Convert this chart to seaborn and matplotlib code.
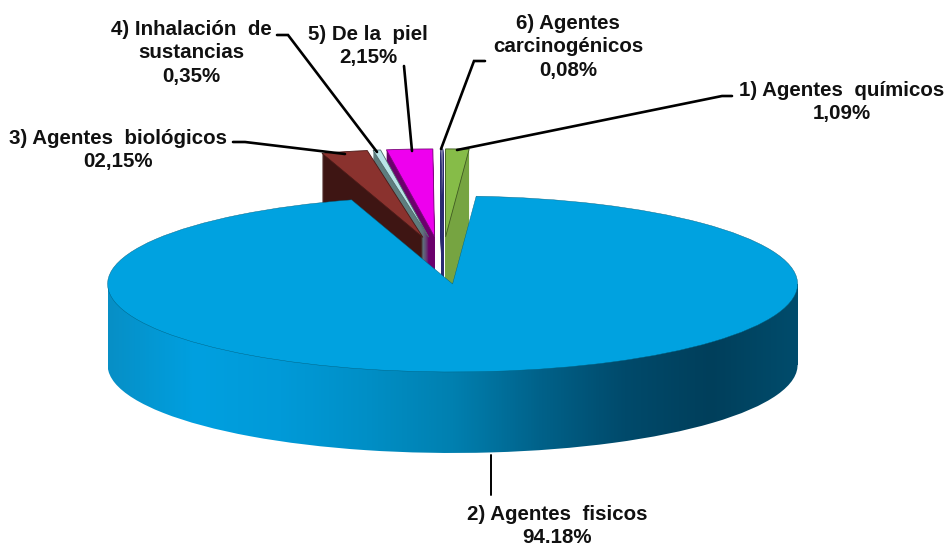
import numpy as np
import matplotlib
matplotlib.use("Agg")
import matplotlib.pyplot as plt
from matplotlib.patches import Rectangle
import seaborn as sns

# ---- data ----
values = [1.09, 94.18, 2.15, 0.35, 2.15, 0.08]
label_texts = [
    "1) Agentes  químicos\n1,09%",
    "2) Agentes  fisicos\n94.18%",
    "3) Agentes  biológicos\n02,15%",
    "4) Inhalación  de\nsustancias\n0,35%",
    "5) De la  piel\n2,15%",
    "6) Agentes\ncarcinogénicos\n0,08%",
]

# ---- style ----
top_colors = ["#86BC48", "#00A2E0", "#8A322E", "#B9E4E8", "#EE00EE", "#FFFFFF"]
side_colors = ["#76A441", "#00A2E0", "#3E1513", "#5E7D7E", "#6C006C", "#FFFFFF"]
edge_colors = ["#3F5A22", "#00607F", "#4A1A18", "#4F6B6C", "#7A0A7A", "#2A2A70"]
side_z = [1.5, 1.0, 1.9, 1.8, 1.7, 1.6]
explode = [0.217, 0.32, 0.217, 0.217, 0.217, 0.217]
rim_colors = ["#078FC6", "#00A0E0", "#009AD8", "#008FC6", "#0080B0",
              "#00628A", "#004A6B", "#003F5B", "#004C6C"]

W, H = 945, 548
CX, CY, RX, RY = 440.0, 256.0, 345.0, 88.0
DEPTH = 81.0 / RY
nudge = [3 / RX, 0, 0, 0, 0, 3 / RX]


def px(x, y):
    return (x - CX) / RX, (CY - y) / RY


label_pos = [(842, 102), (557, 526), (118, 150), (191, 53), (368, 46), (568, 47)]
leaders = [
    [(732, 96), (722, 96), (457, 150)],
    [(491, 455), (491, 495)],
    [(233, 142), (245, 142), (345, 154)],
    [(277, 35), (288, 35), (377, 152)],
    [(404, 66), (412, 151)],
    [(485, 61), (474, 61), (441, 149)],
]

sns.set_theme(style="white")
plt.rcParams["font.family"] = ["Liberation Sans", "DejaVu Sans"]

fig = plt.figure(figsize=(W / 100, H / 100), dpi=100, facecolor="white")
ax = fig.add_axes([0, 0, 1, 1])


def draw_pie(center, colors):
    wedges, _ = ax.pie(values, explode=explode, colors=colors, startangle=90,
                       counterclock=False, radius=1.0, center=center,
                       wedgeprops={"linewidth": 0})
    for w, n in zip(wedges, nudge):
        cx, cy = w.center
        w.set_center((cx + n, cy))
    return wedges


# extruded sides of the small slices
steps = 81
for k in range(steps, 0, -1):
    wedges = draw_pie((0, -DEPTH * k / steps), side_colors)
    for i, w in enumerate(wedges):
        w.set_zorder(side_z[i])
        if i == 1:
            w.set_visible(False)
        if i == 5:
            w.set_linewidth(0.8)
            w.set_edgecolor(edge_colors[5])

# top faces of the small slices and of the large slice
tops = draw_pie((0, 0), top_colors)
for i, w in enumerate(tops):
    w.set_zorder(3 if i != 1 else 5)
    w.set_edgecolor(edge_colors[i])
    w.set_linewidth(0.6 if i != 1 else 0.3)

# shaded rim of the large slice
cx0, cy0 = tops[1].center
low = draw_pie((0, -DEPTH), side_colors)
for i, w in enumerate(low):
    w.set_visible(False)
rim_cmap = sns.blend_palette(rim_colors, as_cmap=True)
grad = np.linspace(0, 1, 512).reshape(1, -1)
extent = (cx0 - 1, cx0 + 1, cy0 - DEPTH - 1.05, cy0)

bottom = low[1]
bottom.set_visible(True)
bottom.set_alpha(0)
rect = Rectangle((cx0 - 1, cy0 - DEPTH), 2, DEPTH, transform=ax.transData,
                 facecolor="none", edgecolor="none")
ax.add_patch(rect)
for clip in (bottom, rect):
    im = ax.imshow(grad, extent=extent, cmap=rim_cmap, aspect="auto",
                   interpolation="bilinear", zorder=4)
    im.set_clip_path(clip)

# leader lines and labels
for pts in leaders:
    xy = np.array([px(*p) for p in pts])
    ax.plot(xy[:, 0], xy[:, 1], color="black", lw=1.9 if len(pts) > 2 or pts[0][0] == 404 else 1.4,
            zorder=6, solid_joinstyle="miter", scalex=False, scaley=False)
for text, (x, y) in zip(label_texts, label_pos):
    dx, dy = px(x, y)
    ax.text(dx, dy, text, ha="center", va="center", fontsize=14.8,
            fontweight="bold", color="#111111", linespacing=1.33, zorder=7)

x0, y0 = px(0, H)
x1, y1 = px(W, 0)
ax.set_aspect("auto")
ax.set_xlim(x0, x1)
ax.set_ylim(y0, y1)
ax.axis("off")

fig.savefig("out.png", dpi=100, facecolor="white")
